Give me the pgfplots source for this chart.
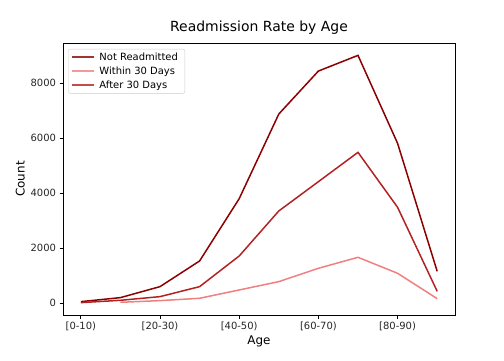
\documentclass[border=0pt]{standalone}
\usepackage{fontspec}
\setmainfont{DejaVu Sans}
\usepackage{pgfplots}
\pgfplotsset{compat=1.18}
\definecolor{nr}{HTML}{8B0000}
\definecolor{w30}{HTML}{F08080}
\definecolor{a30}{HTML}{B22222}
\begin{document}
\begin{tikzpicture}[x=1bp,y=1bp]
\useasboundingbox (0,0) rectangle (504,360);
\begin{axis}[
  at={(63bp,45bp)}, anchor=south west,
  scale only axis, width=392bp, height=272bp,
  xmin=-0.45, xmax=9.45, ymin=-426, ymax=9468,
  xtick={0,2,4,6,8},
  xticklabels={{[0-10)},{[20-30)},{[40-50)},{[60-70)},{[80-90)}},
  ytick={0,2000,4000,6000,8000},
  scaled y ticks=false,
  /pgf/number format/assume math mode=true,
  yticklabel style={/pgf/number format/fixed,/pgf/number format/1000 sep={}},
  tick label style={font=\fontsize{10}{12}\selectfont, color=black!85},
  tick align=outside, tick pos=left,
  major tick length=3.5bp,
  every tick/.style={black, line width=0.8bp},
  axis line style={black, line width=0.8bp},
  title={Readmission Rate by Age},
  title style={font=\fontsize{14}{16}\selectfont, yshift=-1bp},
  xlabel={Age}, ylabel={Count},
  label style={font=\fontsize{12}{14}\selectfont},
  xlabel style={yshift=2bp},
  ylabel style={yshift=-1bp},
  legend cell align=left,
  legend style={font=\fontsize{10}{12}\selectfont, draw=black!20, rounded corners=2bp, fill=white, at={(0.013,0.978)}, anchor=north west, row sep=4bp, inner xsep=3bp, inner ysep=3bp, nodes={inner xsep=4bp, inner ysep=0.5bp}},
  legend image code/.code={\draw[#1, line width=2.2bp, draw opacity=0.8, rounded corners=0pt] (0bp,0bp) -- (22bp,0bp);},
]
\addplot[nr, line width=1.5bp] coordinates {(0,60) (1,206) (2,606) (3,1540) (4,3806) (5,6884) (6,8448) (7,9018) (8,5818) (9,1164)};
\addlegendentry{Not Readmitted}
\addplot[w30, line width=1.5bp] coordinates {(1,36) (2,97) (3,182) (4,485) (5,788) (6,1273) (7,1673) (8,1091) (9,170)};
\addlegendentry{Within 30 Days}
\addplot[a30, line width=1.5bp] coordinates {(0,24) (1,109) (2,242) (3,606) (4,1721) (5,3358) (6,4424) (7,5491) (8,3491) (9,436)};
\addlegendentry{After 30 Days}
\end{axis}
\end{tikzpicture}
\end{document}
